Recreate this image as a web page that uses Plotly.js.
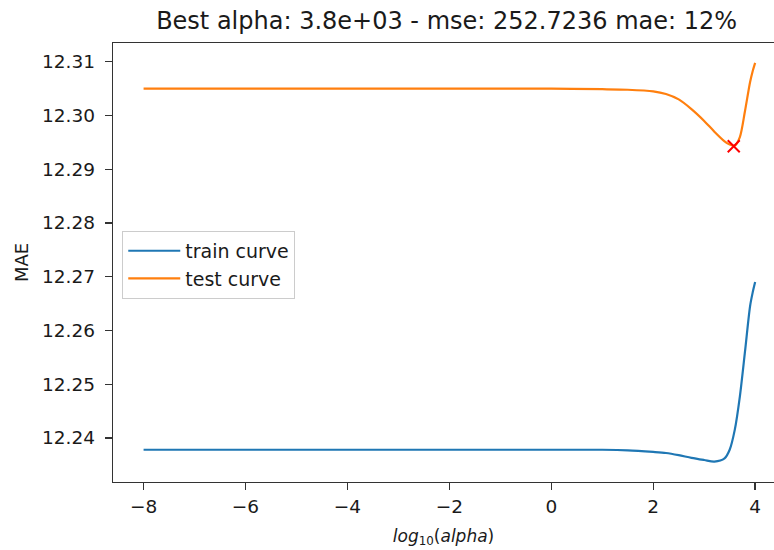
<!DOCTYPE html>
<html>
<head>
<meta charset="utf-8">
<script src="https://cdn.plot.ly/plotly-3.0.1.min.js"></script>
<style>html,body{margin:0;padding:0;background:#fff;}#chart{width:774px;height:550px;}</style>
</head>
<body>
<div id="chart"></div>
<script>
const logAlpha = [-8, -6, -4, -2, 0, 1, 1.5, 2, 2.25, 2.5, 2.75, 3, 3.2, 3.4, 3.5, 3.6, 3.7, 3.8, 3.9, 3.95, 4];
const trainMae = [12.2378, 12.2378, 12.2378, 12.2378, 12.2378, 12.2378, 12.2377, 12.2374, 12.2372, 12.2368, 12.2363, 12.2359, 12.2356, 12.2362, 12.2378, 12.2415, 12.2477, 12.2560, 12.2645, 12.2670, 12.2690];
const testMae = [12.3050, 12.3050, 12.3050, 12.3050, 12.3050, 12.3049, 12.3048, 12.3045, 12.3040, 12.3030, 12.3012, 12.2990, 12.2970, 12.2952, 12.2946, 12.2944, 12.2960, 12.3008, 12.3062, 12.3082, 12.3098];
const bestLogAlpha = [3.58];
const bestMae = [12.2943];
const xTicks = [-8, -6, -4, -2, 0, 2, 4];
const xTickLabels = ['−8', '−6', '−4', '−2', '0', '2', '4'];
const yTicks = [12.24, 12.25, 12.26, 12.27, 12.28, 12.29, 12.30, 12.31];
const yTickLabels = ['12.24', '12.25', '12.26', '12.27', '12.28', '12.29', '12.30', '12.31'];

const font = 'DejaVu Sans, sans-serif';
const traces = [
  {x: logAlpha, y: trainMae, mode: 'lines', name: 'train curve',
   line: {color: '#1f77b4', width: 2.2, shape: 'spline', smoothing: 0.8}},
  {x: logAlpha, y: testMae, mode: 'lines', name: 'test curve',
   line: {color: '#ff7f0e', width: 2.2, shape: 'spline', smoothing: 0.8}},
  {x: bestLogAlpha, y: bestMae, mode: 'markers', showlegend: false,
   marker: {symbol: 'x-thin', size: 12, color: 'red', line: {color: 'red', width: 2}}}
];
const layout = {
  width: 774, height: 550,
  margin: {l: 113, r: 0, t: 43, b: 68},
  paper_bgcolor: '#fff', plot_bgcolor: '#fff',
  font: {family: font, size: 18, color: '#1a1a1a'},
  title: {text: 'Best alpha: 3.8e+03 - mse: 252.7236 mae: 12%', x: 0.577, xanchor: 'center', y: 0.962, yanchor: 'middle',
          font: {family: font, size: 24, color: '#1a1a1a'}},
  xaxis: {range: [-8.6, 4.37], tickvals: xTicks, ticktext: xTickLabels, showgrid: false, zeroline: false,
          showline: true, mirror: true, linecolor: '#333', linewidth: 1.3,
          ticks: 'outside', ticklen: 7, tickwidth: 1.3, tickcolor: '#333',
          tickfont: {family: font, size: 18.5, color: '#1a1a1a'},
          title: {text: '<i>log</i><sub>10</sub>(<i>alpha</i>)', font: {family: font, size: 17, color: '#1a1a1a'}, standoff: 14}},
  yaxis: {range: [12.2318, 12.3135], tickvals: yTicks, ticktext: yTickLabels, showgrid: false, zeroline: false,
          showline: true, mirror: false, linecolor: '#333', linewidth: 1.3,
          ticks: 'outside', ticklen: 7, tickwidth: 1.3, tickcolor: '#333', ticklabelstandoff: 6,
          tickfont: {family: font, size: 18.5, color: '#1a1a1a'},
          title: {text: 'MAE', font: {family: font, size: 18, color: '#1a1a1a'}, standoff: 8}},
  legend: {x: 0.014, y: 0.572, xanchor: 'left', yanchor: 'top', bgcolor: 'rgba(255,255,255,0.8)',
           bordercolor: '#ccc', borderwidth: 1, font: {family: font, size: 19, color: '#1a1a1a'},
           itemwidth: 52, tracegroupgap: 4},
  showlegend: true
};
Plotly.newPlot('chart', traces, layout, {displayModeBar: false, staticPlot: true});
</script>
</body>
</html>
